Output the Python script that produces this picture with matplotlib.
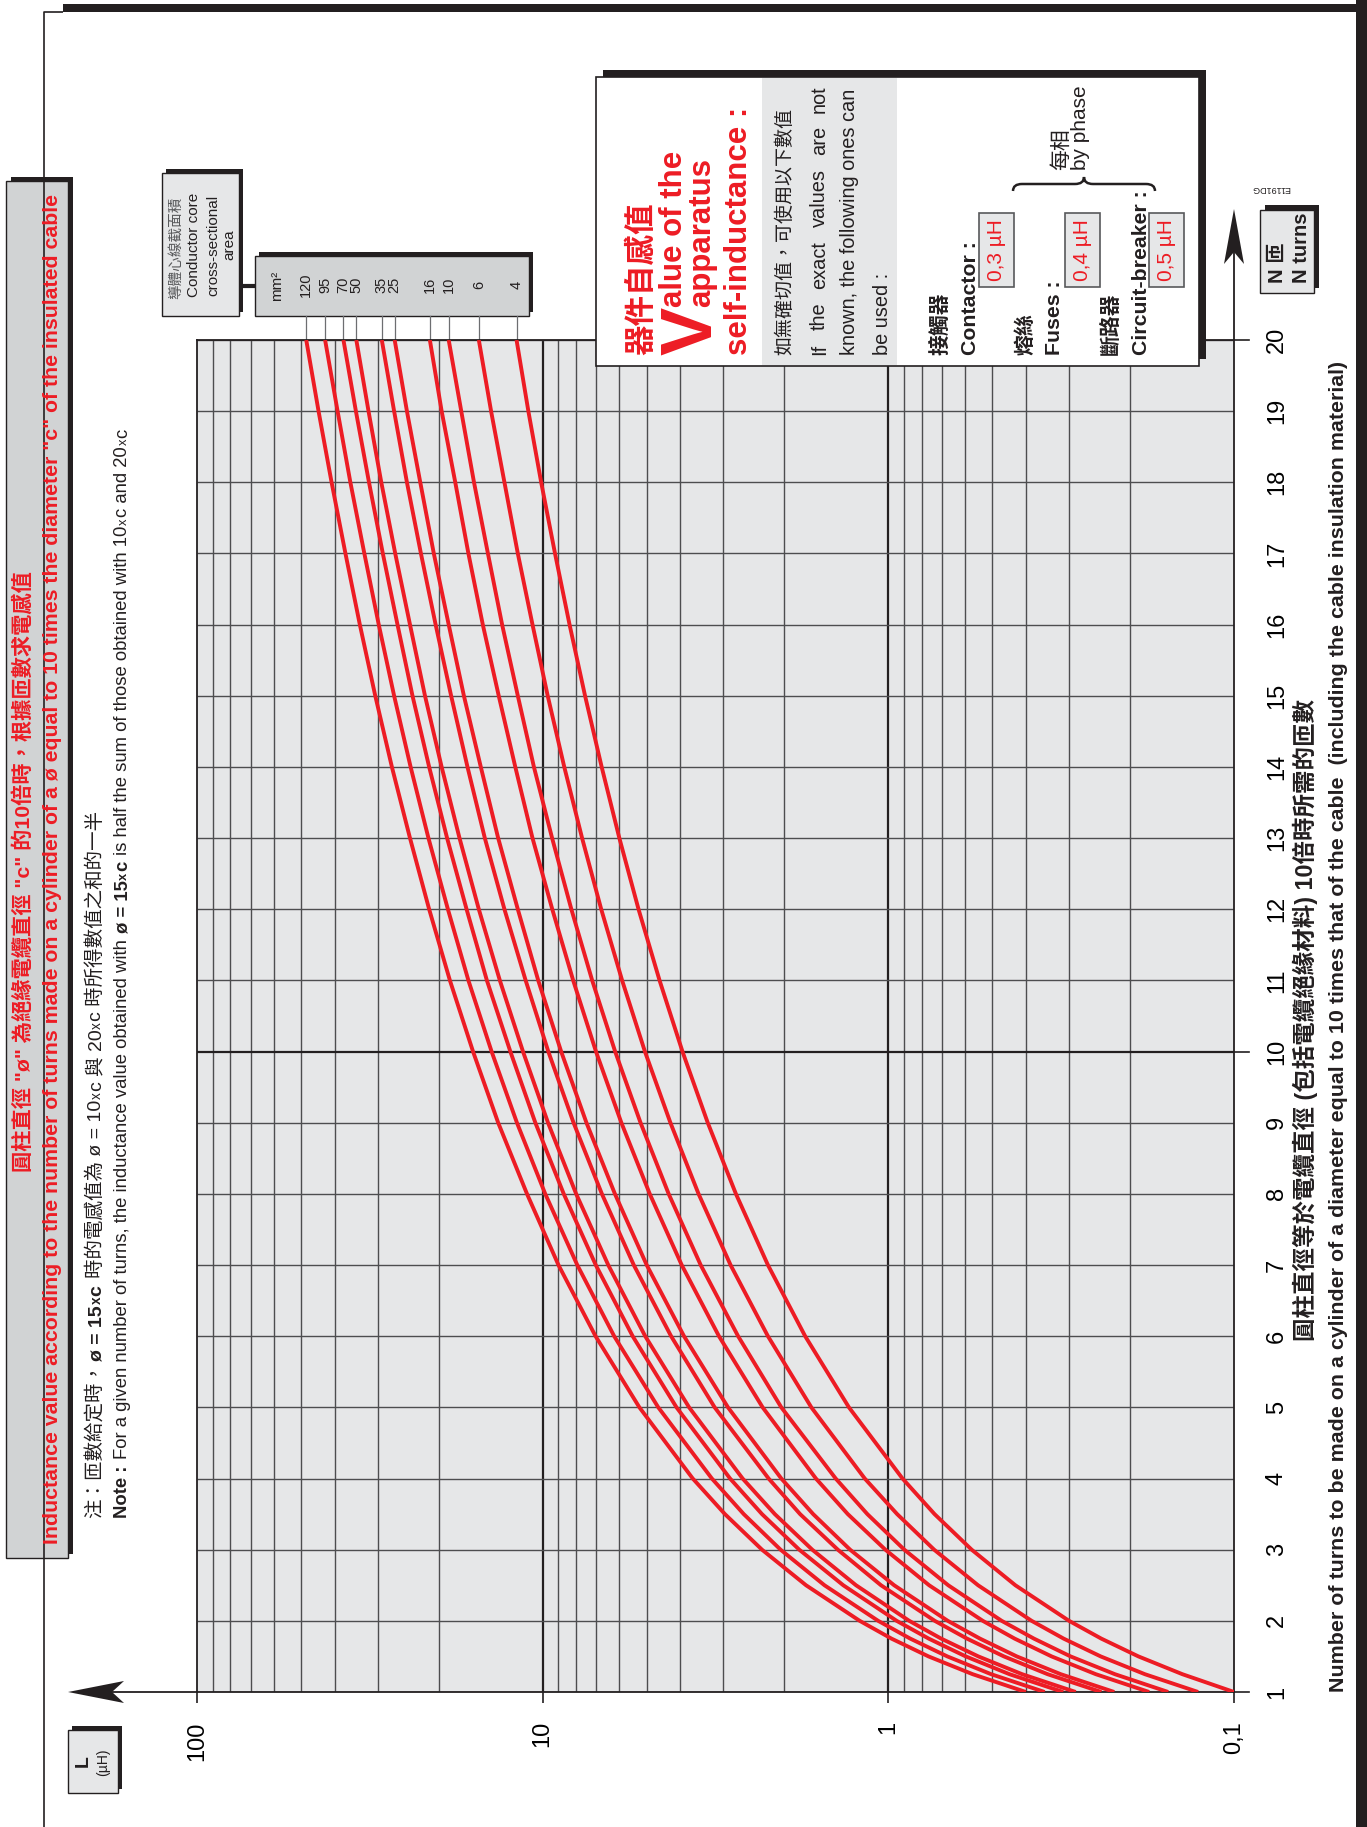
import matplotlib
matplotlib.use("Agg")
import matplotlib.pyplot as plt
from matplotlib.patches import Rectangle, Polygon, PathPatch
from matplotlib.path import Path
from matplotlib.lines import Line2D
from matplotlib.transforms import Affine2D
from matplotlib.ticker import NullLocator, NullFormatter

plt.rcParams["font.family"] = ["Liberation Sans", "Noto Sans CJK TC", "DejaVu Sans"]

W_PX, H_PX = 1367, 1827
RED = "#ed1c24"
DARK = "#231f20"
PANEL = "#e6e7e8"
BOX_GRAY = "#d1d3d4"
GRID = "#4d4d4f"

# ---- data (L in µH at N turns) ----
turns = [1, 1.25, 1.5, 1.75, 2, 2.5, 3, 3.5, 4, 5, 6, 7, 8, 9, 10,
         11, 12, 13, 14, 15, 16, 17, 18, 19, 20]
sections_mm2 = ["120", "95", "70", "50", "35", "25", "16", "10", "6", "4"]
L_120 = [0.40, 0.57, 0.765, 0.979, 1.21, 1.73, 2.32, 2.97, 3.68, 5.25, 7.03, 9.0, 11.1, 13.45, 15.9,
         18.55, 21.3, 24.2, 27.3, 30.5, 33.8, 37.2, 40.8, 44.5, 48.3]
L_95 = [0.353, 0.504, 0.675, 0.864, 1.07, 1.53, 2.05, 2.62, 3.24, 4.63, 6.21, 7.94, 9.83, 11.87, 14.05,
        16.4, 18.8, 21.4, 24.1, 26.9, 29.8, 32.8, 36.0, 39.2, 42.6]
L_70 = [0.312, 0.446, 0.597, 0.764, 0.946, 1.35, 1.81, 2.32, 2.87, 4.10, 5.49, 7.02, 8.69, 10.5, 12.4,
        14.5, 16.6, 18.9, 21.3, 23.8, 26.3, 29.0, 31.8, 34.7, 37.7]
L_50 = [0.287, 0.41, 0.549, 0.703, 0.87, 1.24, 1.66, 2.13, 2.64, 3.77, 5.05, 6.46, 8.0, 9.65, 11.4,
        13.3, 15.3, 17.4, 19.6, 21.9, 24.2, 26.7, 29.3, 31.9, 34.6]
L_35 = [0.242, 0.346, 0.463, 0.592, 0.734, 1.05, 1.40, 1.80, 2.22, 3.18, 4.25, 5.45, 6.74, 8.14, 9.63,
        11.2, 12.9, 14.7, 16.5, 18.4, 20.4, 22.5, 24.7, 26.9, 29.2]
L_25 = [0.222, 0.317, 0.425, 0.543, 0.673, 0.962, 1.29, 1.65, 2.04, 2.91, 3.90, 5.0, 6.18, 7.47, 8.84,
        10.3, 11.8, 13.45, 15.1, 16.9, 18.7, 20.65, 22.6, 24.7, 26.8]
L_16 = [0.176, 0.251, 0.337, 0.431, 0.533, 0.762, 1.02, 1.31, 1.62, 2.31, 3.09, 3.96, 4.90, 5.92, 7.01,
        8.16, 9.38, 10.7, 12.0, 13.4, 14.9, 16.4, 17.9, 19.6, 21.2]
L_10 = [0.155, 0.221, 0.297, 0.379, 0.47, 0.671, 0.899, 1.15, 1.42, 2.04, 2.72, 3.49, 4.32, 5.21, 6.17,
        7.19, 8.26, 9.39, 10.6, 11.8, 13.1, 14.4, 15.8, 17.2, 18.7]
L_6 = [0.127, 0.181, 0.243, 0.311, 0.385, 0.55, 0.737, 0.943, 1.17, 1.67, 2.23, 2.86, 3.54, 4.27, 5.06,
       5.89, 6.77, 7.69, 8.66, 9.67, 10.7, 11.8, 12.9, 14.1, 15.3]
L_4 = [0.10, 0.141, 0.189, 0.242, 0.30, 0.429, 0.574, 0.735, 0.91, 1.30, 1.74, 2.23, 2.76, 3.33, 3.94,
       4.59, 5.28, 6.0, 6.75, 7.54, 8.36, 9.21, 10.1, 11.0, 11.9]
curves = [L_120, L_95, L_70, L_50, L_35, L_25, L_16, L_10, L_6, L_4]

n_ticks = list(range(1, 21))
L_ticks = [100, 10, 1, 0.1]
L_tick_labels = ["100", "10", "1", "0,1"]

apparatus_zh = ["接觸器", "熔絲", "斷路器"]
apparatus_en = ["Contactor :", "Fuses :", "Circuit-breaker :"]
apparatus_values = ["0,3 µH", "0,4 µH", "0,5 µH"]

TITLE_ZH = '圓柱直徑 "ø" 為絕緣電纜直徑 "c" 的10倍時，根據匝數求電感值'
TITLE_EN = ('Inductance value according to the number of turns made on a cylinder '
            'of a ø equal to 10 times the diameter "c" of the insulated cable')
XLABEL_ZH = "圓柱直徑等於電纜直徑 (包括電纜絕緣材料) 10倍時所需的匝數"
XLABEL_EN = ("Number of turns to be made on a cylinder of a diameter equal to 10 times "
             "that of the cable  (including the cable insulation material)")

fig = plt.figure(figsize=(W_PX / 100, H_PX / 100), dpi=100)
PX = Affine2D().scale(1 / W_PX, -1 / H_PX).translate(0, 1) + fig.transFigure
renderer = fig.canvas.get_renderer()


def rect(x0, y0, x1, y1, fc, ec="none", lw=0.0, z=1):
    fig.add_artist(Rectangle((x0, y0), x1 - x0, y1 - y0, transform=PX,
                             fc=fc, ec=ec, lw=lw, zorder=z))


def shadow_box(x0, y0, x1, y1, fc, dx=5, dy=5, z=1, lw=1.0):
    rect(x0 + dx, y0 - dy, x1 + dx, y1 - dy, DARK, z=z)
    rect(x0, y0, x1, y1, fc, ec=DARK, lw=lw, z=z)


def line(xs, ys, lw=1.0, color=DARK, z=2):
    fig.add_artist(Line2D(xs, ys, transform=PX, lw=lw, color=color, zorder=z,
                          solid_capstyle="butt"))


def vtext(x, y, s, size, weight="normal", color=DARK, ha="left", va="baseline"):
    return fig.text(x, y, s, transform=PX, rotation=90, rotation_mode="anchor",
                    ha=ha, va=va, fontsize=size, fontweight=weight, color=color,
                    zorder=4)


def run_len(s, size, weight):
    core = s.strip(" ")
    n_sp = len(s) - len(core)
    n = 0
    if core:
        t = vtext(0, 0, core, size, weight)
        n = t.get_window_extent(renderer).height
        t.remove()
    return n + n_sp * 0.278 * size * 100 / 72


def vruns(x, y, runs, size):
    # runs: (text, weight, scale, color), laid out bottom to top
    for s, weight, scale, color in runs:
        sp = 0.278 * size * scale * 100 / 72
        y -= (len(s) - len(s.lstrip(" "))) * sp
        core = s.strip(" ")
        if core:
            vtext(x, y, core, size * scale, weight, color)
            y -= run_len(core, size * scale, weight)
        y -= (len(s) - len(s.rstrip(" "))) * sp if core else 0
        y -= 1
    return y


def vjustify(x, y0, y1, words, size, weight="normal"):
    lens = [run_len(w, size, weight) for w in words]
    gap = (y0 - y1 - sum(lens)) / (len(words) - 1)
    y = y0
    for w, n in zip(words, lens):
        vtext(x, y, w, size, weight)
        y -= n + gap


# ---- page frame ----
line([44, 44, 63], [1827, 12, 12], lw=1.2)
rect(63, 4, 1367, 12, DARK)
rect(1356, 0, 1367, 1827, DARK)

# ---- title box ----
shadow_box(6, 181, 68, 1558, BOX_GRAY, dx=5, dy=4)
vtext(30, 872, TITLE_ZH, 15.3, "bold", RED, ha="center")
vtext(58, 869, TITLE_EN, 15.3, "bold", RED, ha="center")

# ---- notes ----
vruns(101, 1518, [("注：匝數給定時，", "normal", 1, DARK), ("ø = 15", "bold", 1, DARK),
                  ("x", "bold", 0.7, DARK), ("c", "bold", 1, DARK),
                  (" 時的電感值為 ø = 10", "normal", 1, DARK), ("x", "normal", 0.7, DARK),
                  ("c 與 20", "normal", 1, DARK), ("x", "normal", 0.7, DARK),
                  ("c 時所得數值之和的一半", "normal", 1, DARK)], 14)
vruns(127, 1518, [("Note :", "bold", 1, DARK),
                  (" For a given number of turns, the inductance value obtained with ", "normal", 1, DARK),
                  ("ø = 15", "bold", 1, DARK), ("x", "bold", 0.7, DARK), ("c", "bold", 1, DARK),
                  (" is half the sum of those obtained with 10", "normal", 1, DARK),
                  ("x", "normal", 0.7, DARK), ("c and 20", "normal", 1, DARK),
                  ("x", "normal", 0.7, DARK), ("c", "normal", 1, DARK)], 13.3)

# ---- main axes ----
ax = fig.add_axes([197 / W_PX, 1 - 1692 / H_PX, (1234 - 197) / W_PX, (1692 - 340) / H_PX])
ax.set_facecolor(PANEL)
ax.set_xscale("log")
ax.set_xlim(100, 0.1)
ax.set_ylim(1, 20)

grid_L = [k * 10.0 ** e for e in (-1, 0, 1) for k in range(2, 10)]
ax.vlines(grid_L, 1, 20, colors=GRID, lw=1.0, zorder=1)
ax.vlines([1, 10], 1, 20, colors=DARK, lw=1.6, zorder=1)
ax.hlines([n for n in n_ticks if n != 10], 100, 0.1, colors=GRID, lw=1.0, zorder=1)
ax.hlines([10], 100, 0.1, colors=DARK, lw=1.6, zorder=1)

for L in curves:
    ax.plot(L, turns, color=RED, lw=2.8, zorder=3, solid_capstyle="butt")

for name, L in zip(sections_mm2, curves):
    ax.plot([L[-1], L[-1]], [20, 20.34], color="#6d6e71", lw=0.9, clip_on=False)
    ax.text(L[-1], 20.78, name, rotation=90, rotation_mode="anchor", ha="center",
            va="center", fontsize=10.5, color=DARK, clip_on=False)

for s in ax.spines.values():
    s.set_color(DARK)
    s.set_linewidth(1.3)

ax.xaxis.set_minor_locator(NullLocator())
ax.xaxis.set_minor_formatter(NullFormatter())
ax.set_xticks(L_ticks, labels=L_tick_labels)
ax.tick_params(axis="x", length=8, width=1.2, color=DARK, pad=13, labelsize=17)
for t in ax.get_xticklabels():
    t.set_rotation(90)
    t.set_va("top")
    t.set_ha("center")

ax.yaxis.tick_right()
ax.set_yticks(n_ticks, labels=[str(n) for n in n_ticks])
ax.tick_params(axis="y", length=0, pad=23, labelsize=17)
for t in ax.get_yticklabels():
    t.set_rotation(90)
    t.set_va("center")
    t.set_ha("left")
for n in (1, 10, 20):
    ax.plot([1, 1.0145], [n, n], transform=ax.get_yaxis_transform(), color=DARK,
            lw=1.2, clip_on=False)

# axis arrows
line([78, 197], [1692, 1692], lw=1.3)
fig.add_artist(Polygon([(68, 1692), (124, 1681), (112, 1692), (124, 1703)],
                       closed=True, transform=PX, fc=DARK, ec="none", zorder=2))
line([1234, 1234], [220, 340], lw=1.3)
fig.add_artist(Polygon([(1234, 209), (1224, 264), (1234, 252), (1244, 264)],
                       closed=True, transform=PX, fc=DARK, ec="none", zorder=2))

# ---- axis labels ----
vtext(1313, 1020, XLABEL_ZH, 16.9, "bold", ha="center")
vtext(1344, 1026, XLABEL_EN, 15.4, "bold", ha="center")
fig.text(1271, 188, "E1191DG", transform=PX, rotation=180, ha="center", va="center",
         fontsize=6.5, color=DARK)

shadow_box(1260, 210, 1314, 293, PANEL, dx=5, dy=5)
vtext(1283, 283, "N 匝", 14.5, "bold")
vtext(1307, 283, "N turns", 14.5, "bold")

shadow_box(68, 1730, 118, 1793, PANEL, dx=4, dy=4)
vtext(88, 1761, "L", 14, "bold", ha="center")
vtext(107, 1762, "(µH)", 10, ha="center")

# ---- conductor section legend ----
shadow_box(162, 173, 239, 316, PANEL, dx=4, dy=4)
vtext(180, 248, "導體心線截面積", 10.5, color="#58595b", ha="center")
vtext(198, 245, "Conductor core", 11, ha="center")
vtext(217, 245, "cross-sectional", 11, ha="center")
vtext(233, 245, "area", 11, ha="center")
line([243, 255], [286, 286], lw=3)
shadow_box(255, 256, 529, 316, BOX_GRAY, dx=4, dy=4, z=-1)
vtext(281, 286, "mm²", 11, ha="center")

# ---- apparatus self-inductance box ----
shadow_box(596, 77, 1199, 366, "white", dx=7, dy=7, z=2, lw=1.2)
rect(762, 78, 897, 365, PANEL, z=2)
vtext(650, 355, "器件自感值", 22, "bold", RED)
vtext(711, 355, "V", 52, "bold", RED)
vtext(682, 307, "alue of the", 22.5, "bold", RED)
vtext(710, 307, "apparatus", 22.5, "bold", RED)
vtext(747, 355, "self-inductance :", 22.5, "bold", RED)

vtext(790, 355, "如無確切值，可使用以下數值", 13.7)
vjustify(825, 355, 85, "If the exact values are not".split(), 14.4)
vtext(855, 355, "known, the following ones can", 14.4)
vtext(888, 355, "be used :", 14.4)

zh_x = [947, 1031, 1117]
en_x = [976, 1060, 1147]
box_x = [(979, 1014), (1065, 1100), (1149, 1184)]
for zh, en, val, xz, xe, (b0, b1) in zip(apparatus_zh, apparatus_en, apparatus_values,
                                          zh_x, en_x, box_x):
    vtext(xz, 355, zh, 15, "bold")
    vtext(xe, 355, en, 15.3, "bold")
    rect(b0, 213, b1, 287, PANEL, ec="#58595b", lw=1.2, z=2)
    vtext((b0 + b1) / 2, 250, val, 15, color=RED, ha="center", va="center")

xa, xm, xb = 1013, 1084, 1155
brace = Path([(xa, 191), (xa, 184), (xa + 9, 184), (xm - 9, 184), (xm, 184), (xm, 177),
              (xm, 184), (xm + 9, 184), (xb - 9, 184), (xb, 184), (xb, 191)],
             [Path.MOVETO, Path.CURVE3, Path.CURVE3, Path.LINETO, Path.CURVE3, Path.CURVE3,
              Path.CURVE3, Path.CURVE3, Path.LINETO, Path.CURVE3, Path.CURVE3])
fig.add_artist(PathPatch(brace, transform=PX, fc="none", ec=DARK, lw=1.8, zorder=3))
vtext(1067, 170, "每相", 15)
vtext(1086, 170, "by phase", 15)

fig.savefig("out.png", dpi=100)
